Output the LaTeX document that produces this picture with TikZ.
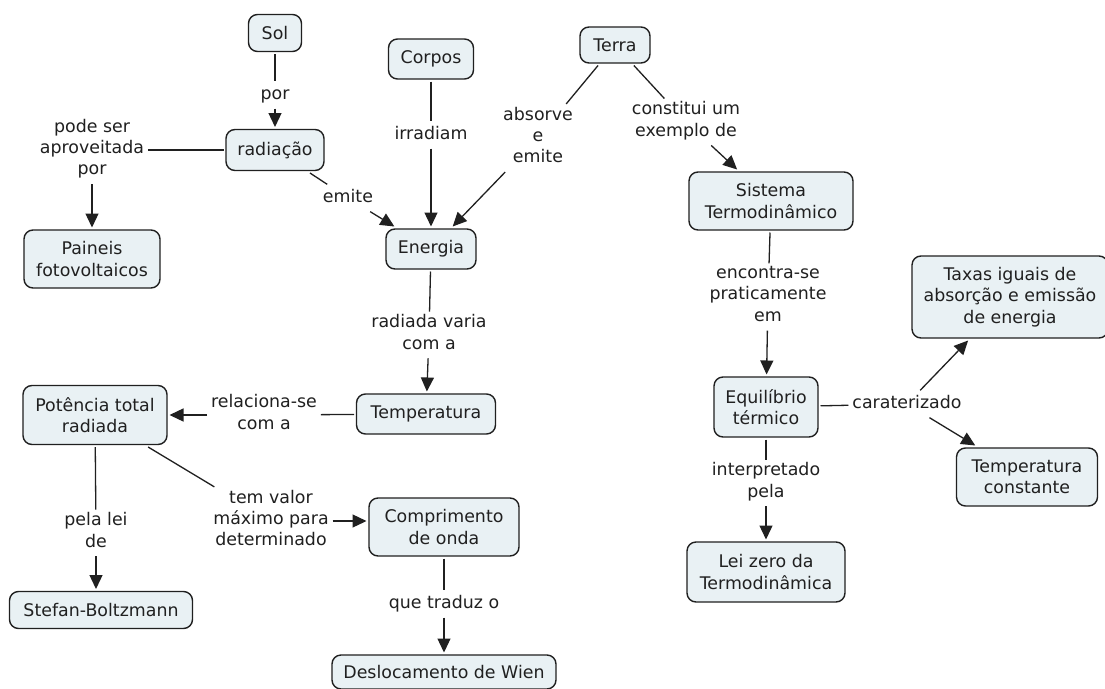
\documentclass[tikz,border=0pt]{standalone}
\usepackage{fontspec}
\setmainfont{DejaVu Sans}
\usetikzlibrary{arrows.meta}
\definecolor{boxfill}{RGB}{233,241,244}
\definecolor{ink}{RGB}{32,32,32}
\begin{document}
\begin{tikzpicture}[x=1pt,y=-1pt,
  every node/.style={font=\fontsize{17.4}{21.3}\selectfont, text=ink, align=center},
  concept/.style={draw=ink, line width=1.4pt, fill=boxfill, rounded corners=9pt, inner sep=0pt, outer sep=2.5pt},
  lbl/.style={inner xsep=3pt, inner ysep=2pt, outer sep=1pt, execute at begin node=\strut, execute at end node=\strut},
  conn/.style={draw=ink, line width=1.3pt},
  arr/.style={conn, -{Triangle[length=14pt,width=13pt]}}
]
\useasboundingbox (0,0) rectangle (1105,688);
\fill[white] (0,0) rectangle (1105,688);

% concepts
\node[concept, minimum width=53pt, minimum height=37pt] (sol) at (275,33) {Sol};
\node[concept, minimum width=85pt, minimum height=40pt] (corpos) at (431,59) {Corpos};
\node[concept, minimum width=70pt, minimum height=36pt] (terra) at (615,45) {Terra};
\node[concept, minimum width=98pt, minimum height=41pt] (radiacao) at (275,150) {radiação};
\node[concept, minimum width=136pt, minimum height=58pt] (paineis) at (92,259) {Paineis\\fotovoltaicos};
\node[concept, minimum width=90pt, minimum height=40pt] (energia) at (431,249) {Energia};
\node[concept, minimum width=164pt, minimum height=58pt] (sistema) at (771,201) {Sistema\\Termodinâmico};
\node[concept, minimum width=196pt, minimum height=82pt] (taxas) at (1010,297) {Taxas iguais de\\absorção e emissão\\de energia};
\node[concept, minimum width=139pt, minimum height=40pt] (temperatura) at (426,414) {Temperatura};
\node[concept, minimum width=144pt, minimum height=59pt] (potencia) at (95,415) {Potência total\\radiada};
\node[concept, minimum width=104pt, minimum height=60pt] (equilibrio) at (766,407) {Equilíbrio\\térmico};
\node[concept, minimum width=141pt, minimum height=58pt] (tempconst) at (1027,477) {Temperatura\\constante};
\node[concept, minimum width=150pt, minimum height=58pt] (comprimento) at (444,527) {Comprimento\\de onda};
\node[concept, minimum width=183pt, minimum height=37pt] (stefan) at (101,610) {Stefan-Boltzmann};
\node[concept, minimum width=158pt, minimum height=60pt] (leizero) at (766,572) {Lei zero da\\Termodinâmica};
\node[concept, minimum width=224pt, minimum height=34pt] (wien) at (444,672) {Deslocamento de Wien};

% linking phrases
\node[lbl] (lpor) at (275,95) {por};
\node[lbl] (lpode) at (92,150) {pode ser\\aproveitada\\por};
\node[lbl] (lemite) at (348,198) {emite};
\node[lbl] (lirr) at (431,135) {irradiam};
\node[lbl] (labs) at (538,138) {absorve\\e\\emite};
\node[lbl] (lconst) at (686,122) {constitui um\\exemplo de};
\node[lbl] (lenc) at (768,297) {encontra-se\\praticamente\\em};
\node[lbl] (lrad) at (429,335) {radiada varia\\com a};
\node[lbl] (lrel) at (264,415) {relaciona-se\\com a};
\node[lbl] (lcar) at (907,404) {caraterizado};
\node[lbl] (linterp) at (766,483) {interpretado\\pela};
\node[lbl] (lpela) at (96,533) {pela lei\\de};
\node[lbl] (ltem) at (271,521) {tem valor\\máximo para\\determinado};
\node[lbl] (lque) at (444,604) {que traduz o};

% connectors
\draw[conn] (sol) -- (lpor);
\draw[arr] (lpor) -- (radiacao);
\draw[conn] (radiacao) -- (lpode);
\draw[arr] (lpode) -- (paineis);
\draw[conn] (radiacao) -- (lemite);
\draw[arr] (lemite) -- (energia);
\draw[conn] (corpos) -- (lirr);
\draw[arr] (lirr) -- (energia);
\draw[conn] (terra) -- (labs);
\draw[arr] (labs) -- (energia);
\draw[conn] (terra) -- (lconst);
\draw[arr] (lconst) -- (sistema);
\draw[conn] (sistema) -- (lenc);
\draw[arr] (lenc) -- (equilibrio);
\draw[conn] (equilibrio) -- (lcar);
\draw[arr] (lcar) -- (taxas);
\draw[arr] (lcar) -- (tempconst);
\draw[conn] (equilibrio) -- (linterp);
\draw[arr] (linterp) -- (leizero);
\draw[conn] (energia) -- (lrad);
\draw[arr] (lrad) -- (temperatura);
\draw[conn] (temperatura) -- (lrel);
\draw[arr] (lrel) -- (potencia);
\draw[conn] (potencia) -- (lpela);
\draw[arr] (lpela) -- (lpela |- stefan.north);
\draw[conn] (potencia) -- (ltem);
\draw[arr] (ltem) -- (ltem -| comprimento.west);
\draw[conn] (comprimento) -- (lque);
\draw[arr] (lque) -- (wien);
\end{tikzpicture}
\end{document}
